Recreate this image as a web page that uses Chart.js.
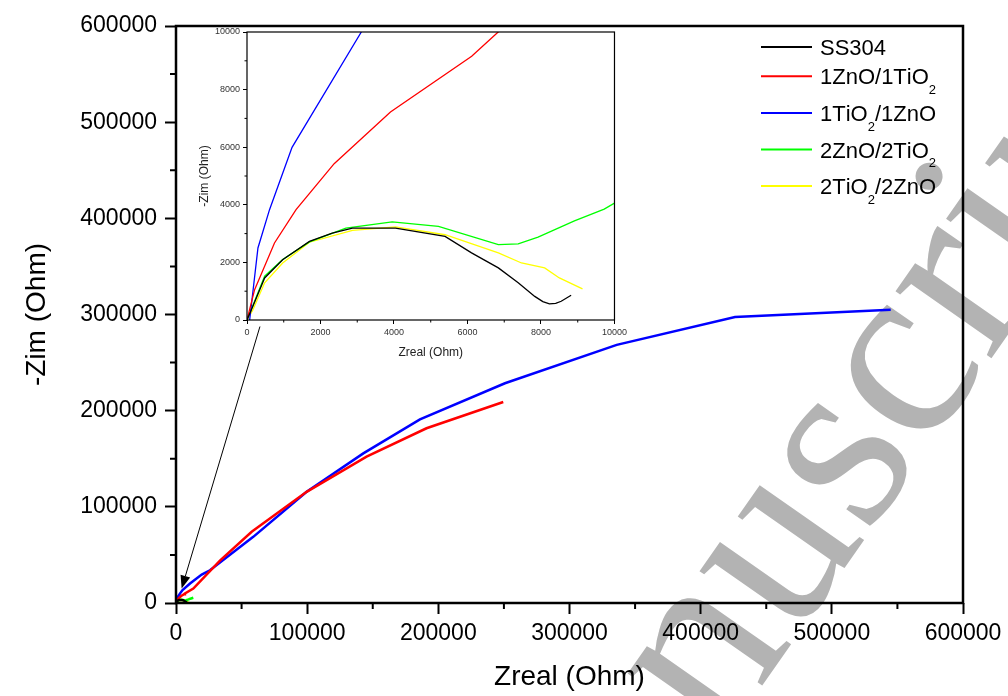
<!DOCTYPE html>
<html lang="en">
<head>
<meta charset="UTF-8">
<title>Nyquist SS304</title>
<style>
    body { margin: 0; background: #fff; }
    .wrap { position: relative; width: 1008px; height: 696px; }
    #mainChart { position: absolute; left: 0; top: 0; }
    #insetChart { position: absolute; left: 180px; top: 22px; }
</style>
</head>
<body>
<div class="wrap">
    <canvas id="mainChart" width="1008" height="696"></canvas>
    <canvas id="insetChart" width="450" height="340"></canvas>
</div>
<script src="https://cdn.jsdelivr.net/npm/chart.js"></script>
<script>
    // series (Ohm)
    const seriesNames = ['SS304', '1ZnO/1TiO₂', '1TiO₂/1ZnO', '2ZnO/2TiO₂', '2TiO₂/2ZnO'];
    const seriesColors = ['#000000', '#ff0000', '#0000ff', '#00ff00', '#ffff00'];

    const ss304X = [0, 160, 480, 970, 1700, 2320, 2870, 4040, 5390, 6110, 6840, 7380, 7830, 8050, 8230, 8400, 8550, 8820];
    const ss304Y = [0, 480, 1460, 2090, 2730, 3020, 3190, 3190, 2900, 2330, 1810, 1290, 820, 640, 560, 580, 650, 860];

    const zt11X = [0, 207, 748, 1335, 2372, 3904, 6114, 6835, 13200, 33500, 57700, 99600, 145300, 191000, 249500];
    const zt11Y = [0, 1053, 2674, 3831, 5428, 7222, 9155, 10000, 15000, 44000, 74000, 115600, 152100, 181700, 209000];

    const tz11X = [72, 298, 613, 1226, 3111, 5000, 10700, 19600, 25900, 58900, 99600, 142800, 186000, 250800, 336000, 426200, 544900];
    const tz11Y = [0, 2500, 3831, 5995, 10000, 13500, 20200, 29500, 34000, 68800, 115600, 155600, 191000, 228500, 268400, 297300, 304900];

    const zt22X = [0, 160, 480, 970, 1700, 2690, 3950, 5210, 6840, 7380, 7920, 8910, 9720, 10000, 11500, 13200];
    const zt22Y = [0, 500, 1520, 2100, 2710, 3190, 3410, 3250, 2620, 2640, 2880, 3440, 3850, 4060, 4700, 5400];

    const tz22X = [0, 160, 480, 970, 1700, 2870, 4040, 5390, 6840, 7470, 8100, 8500, 9130];
    const tz22Y = [0, 350, 1290, 1980, 2700, 3110, 3230, 2960, 2330, 1980, 1810, 1460, 1080];

    const seriesX = [ss304X, zt11X, tz11X, zt22X, tz22X];
    const seriesY = [ss304Y, zt11Y, tz11Y, zt22Y, tz22Y];

    const mainTicks = [0, 100000, 200000, 300000, 400000, 500000, 600000];
    const insetTicks = [0, 2000, 4000, 6000, 8000, 10000];

    // arrow from the inset to the origin, in main-axis units
    const arrowFrom = [64000, 287500];
    const arrowTo = [4300, 15000];

    Chart.defaults.font.family = "'Liberation Sans', Arial, sans-serif";
    Chart.defaults.color = '#000';

    function makeDatasets(width) {
        return seriesNames.map((name, i) => ({
            label: name,
            data: seriesX[i].map((x, j) => ({ x: x, y: seriesY[i][j] })),
            borderColor: seriesColors[i],
            backgroundColor: seriesColors[i],
            borderWidth: width,
            showLine: true,
            pointRadius: 0,
            tension: 0
        }));
    }

    function setTicks(list) {
        return scale => { scale.ticks = list.map(v => ({ value: v })); };
    }

    const plain = v => String(v);

    function minorTicks(chart, len, width) {
        const ctx = chart.ctx;
        const xs = chart.scales.x, ys = chart.scales.y;
        const a = chart.chartArea;
        ctx.save();
        ctx.strokeStyle = '#000';
        ctx.lineWidth = width;
        ctx.beginPath();
        for (let i = 0; i < xs.ticks.length - 1; i++) {
            const px = xs.getPixelForValue((xs.ticks[i].value + xs.ticks[i + 1].value) / 2);
            ctx.moveTo(px, a.bottom);
            ctx.lineTo(px, a.bottom + len);
        }
        for (let i = 0; i < ys.ticks.length - 1; i++) {
            const py = ys.getPixelForValue((ys.ticks[i].value + ys.ticks[i + 1].value) / 2);
            ctx.moveTo(a.left, py);
            ctx.lineTo(a.left - len, py);
        }
        ctx.stroke();
        ctx.restore();
    }

    function drawLabel(ctx, text, x, y, size) {
        // '₂' is drawn as a lowered, smaller 2
        let cx = x;
        for (const ch of text) {
            if (ch === '₂') {
                ctx.font = Math.round(size * 0.6) + "px 'Liberation Sans'";
                ctx.fillText('2', cx, y + size * 0.45);
                cx += ctx.measureText('2').width;
            } else {
                ctx.font = size + "px 'Liberation Sans'";
                ctx.fillText(ch, cx, y);
                cx += ctx.measureText(ch).width;
            }
        }
    }

    const mainExtras = {
        id: 'mainExtras',
        beforeDraw(chart) {
            const ctx = chart.ctx;
            ctx.save();
            ctx.fillStyle = '#fff';
            ctx.fillRect(0, 0, chart.width, chart.height);
            // watermark, centred on its "s"
            const fs = 255;
            ctx.font = fs + "px 'Liberation Serif'";
            ctx.fillStyle = '#b3b3b3';
            ctx.translate(848, 463);
            ctx.rotate(-55 * Math.PI / 180);
            const pre = ctx.measureText('Accepted Manu').width;
            const sw = ctx.measureText('s').width;
            ctx.fillText('Accepted Manuscript', -pre - sw / 2, 0.225 * fs);
            ctx.restore();
        },
        afterDraw(chart) {
            const ctx = chart.ctx;
            const a = chart.chartArea;
            const xs = chart.scales.x, ys = chart.scales.y;
            minorTicks(chart, 6, 2);
            ctx.save();
            ctx.strokeStyle = '#000';
            ctx.lineWidth = 2.5;
            ctx.strokeRect(a.left, a.top, a.right - a.left, a.bottom - a.top);

            // arrow
            const x0 = xs.getPixelForValue(arrowFrom[0]), y0 = ys.getPixelForValue(arrowFrom[1]);
            const x1 = xs.getPixelForValue(arrowTo[0]), y1 = ys.getPixelForValue(arrowTo[1]);
            const ang = Math.atan2(y1 - y0, x1 - x0);
            const hl = 13, hw = 5;
            const bx = x1 - hl * Math.cos(ang), by = y1 - hl * Math.sin(ang);
            ctx.lineWidth = 1;
            ctx.beginPath();
            ctx.moveTo(x0, y0);
            ctx.lineTo(bx, by);
            ctx.stroke();
            ctx.fillStyle = '#000';
            ctx.beginPath();
            ctx.moveTo(x1, y1);
            ctx.lineTo(bx + hw * Math.sin(ang), by - hw * Math.cos(ang));
            ctx.lineTo(bx - hw * Math.sin(ang), by + hw * Math.cos(ang));
            ctx.closePath();
            ctx.fill();

            // legend
            const lx0 = a.right - 202, lx1 = a.right - 151, tx = a.right - 143;
            let y = a.top + 21;
            ctx.textBaseline = 'alphabetic';
            ctx.textAlign = 'left';
            chart.data.datasets.forEach((ds, i) => {
                ctx.strokeStyle = ds.borderColor;
                ctx.lineWidth = 2;
                ctx.beginPath();
                ctx.moveTo(lx0, y);
                ctx.lineTo(lx1, y);
                ctx.stroke();
                ctx.fillStyle = '#000';
                drawLabel(ctx, ds.label, tx, y + 8, 22);
                const next = chart.data.datasets[i + 1];
                if (next) {
                    const h1 = ds.label.includes('₂') ? 36.6 : 22;
                    const h2 = next.label.includes('₂') ? 36.6 : 22;
                    y += (h1 + h2) / 2;
                }
            });
            ctx.restore();
        }
    };

    const insetExtras = {
        id: 'insetExtras',
        beforeDatasetsDraw(chart) {
            const ctx = chart.ctx;
            const a = chart.chartArea;
            ctx.save();
            ctx.fillStyle = '#fff';
            ctx.fillRect(a.left, a.top, a.right - a.left, a.bottom - a.top);
            ctx.restore();
        },
        afterDraw(chart) {
            const ctx = chart.ctx;
            const a = chart.chartArea;
            minorTicks(chart, 2.5, 1);
            ctx.save();
            ctx.strokeStyle = '#000';
            ctx.lineWidth = 1.2;
            ctx.strokeRect(a.left, a.top, a.right - a.left, a.bottom - a.top);
            ctx.restore();
        }
    };

    new Chart(document.getElementById('mainChart'), {
        type: 'scatter',
        data: { datasets: makeDatasets(2.5) },
        plugins: [mainExtras],
        options: {
            responsive: false,
            animation: false,
            layout: { padding: { left: 0, top: 26, right: 45, bottom: 0 } },
            plugins: { legend: { display: false }, tooltip: { enabled: false } },
            scales: {
                x: {
                    type: 'linear',
                    min: 0,
                    max: 600000,
                    afterBuildTicks: setTicks(mainTicks),
                    afterFit: s => { s.height = 93; },
                    border: { display: false },
                    grid: { drawOnChartArea: false, tickLength: 11, tickWidth: 2, tickColor: '#000' },
                    ticks: { font: { size: 23 }, color: '#000', padding: 6, maxRotation: 0, autoSkip: false, callback: plain },
                    title: { display: true, text: 'Zreal (Ohm)', font: { size: 28 }, color: '#000', padding: { top: 0, bottom: 2 } }
                },
                y: {
                    type: 'linear',
                    min: 0,
                    max: 600000,
                    afterBuildTicks: setTicks(mainTicks),
                    afterFit: s => { s.width = 176; },
                    border: { display: false },
                    grid: { drawOnChartArea: false, tickLength: 11, tickWidth: 2, tickColor: '#000' },
                    ticks: { font: { size: 23 }, color: '#000', padding: 8, autoSkip: false, callback: plain },
                    title: { display: true, text: '-Zim (Ohm)', font: { size: 28 }, color: '#000', padding: { top: 20, bottom: 0 } }
                }
            }
        }
    });

    new Chart(document.getElementById('insetChart'), {
        type: 'scatter',
        data: { datasets: makeDatasets(1.3) },
        plugins: [insetExtras],
        options: {
            responsive: false,
            animation: false,
            layout: { padding: { left: 0, top: 10, right: 13, bottom: 0 } },
            plugins: { legend: { display: false }, tooltip: { enabled: false } },
            scales: {
                x: {
                    type: 'linear',
                    min: 0,
                    max: 10000,
                    afterBuildTicks: setTicks(insetTicks),
                    afterFit: s => { s.height = 42; },
                    border: { display: false },
                    grid: { drawOnChartArea: false, tickLength: 4, tickWidth: 1, tickColor: '#000' },
                    ticks: { font: { size: 9 }, color: '#333', padding: 3, maxRotation: 0, autoSkip: false, callback: plain },
                    title: { display: true, text: 'Zreal (Ohm)', font: { size: 12 }, color: '#222', padding: { top: 0, bottom: 2 } }
                },
                y: {
                    type: 'linear',
                    min: 0,
                    max: 10000,
                    afterBuildTicks: setTicks(insetTicks),
                    afterFit: s => { s.width = 67; },
                    border: { display: false },
                    grid: { drawOnChartArea: false, tickLength: 4, tickWidth: 1, tickColor: '#000' },
                    ticks: { font: { size: 9 }, color: '#333', padding: 3, autoSkip: false, callback: plain },
                    title: { display: true, text: '-Zim (Ohm)', font: { size: 12 }, color: '#222', padding: { top: 17, bottom: 0 } }
                }
            }
        }
    });
</script>
</body>
</html>
